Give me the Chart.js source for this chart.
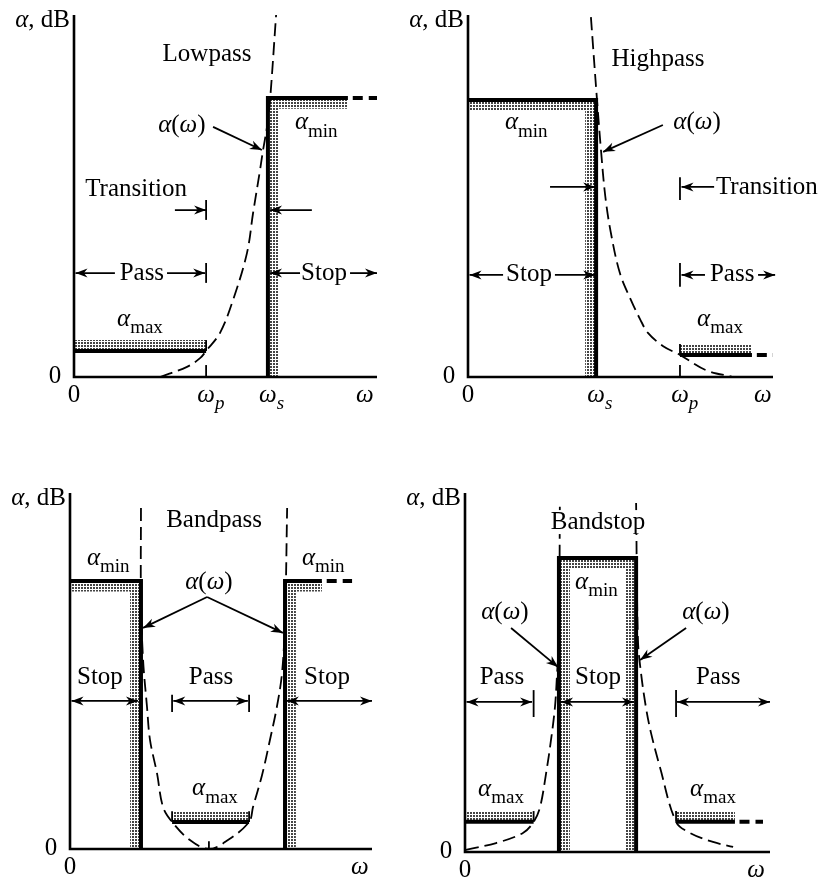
<!DOCTYPE html>
<html>
<head>
<meta charset="utf-8">
<script src="https://cdn.jsdelivr.net/npm/chart.js@4.4.0/dist/chart.umd.min.js"></script>
<style>
  body { margin: 0; background: #fff; }
  #wrap { position: relative; width: 826px; height: 879px; overflow: hidden; }
  canvas { position: absolute; }
</style>
</head>
<body>
<div id="wrap">
  <canvas id="lowpass" width="413" height="440" style="left:0;top:0"></canvas>
  <canvas id="highpass" width="443" height="440" style="left:383px;top:0"></canvas>
  <canvas id="bandpass" width="413" height="439" style="left:0;top:440px"></canvas>
  <canvas id="bandstop" width="443" height="439" style="left:383px;top:440px"></canvas>
</div>
<script>
// ---------- data (x: omega, 0..10 ; y: attenuation, 0..100) ----------
// lowpass
var lpOmega = [2.84, 3.73, 4.16, 4.36, 4.82, 5.25, 5.71, 5.91, 6.14, 6.24, 6.37, 6.47, 6.67];
var lpAlpha = [0, 2.8, 5.2, 7.2, 12.2, 21.3, 34.3, 45.3, 57.2, 62.7, 69.1, 76.5, 100];
var lpEdges = [4.36, 6.40];          // wp, ws
var lpLevels = [7.2, 77.1];          // amax, amin
var lpMinSpan = [9.04, 9.2, 10];     // solid end, dashed start, dashed end
var lpTicks = [0, 4.36, 6.40, 9.6];
var lpTickLabels = ['0', 'ω_p', 'ω_s', 'ω'];

// highpass
var hpOmega = [4.03, 4.23, 4.36, 4.50, 4.68, 4.98, 5.34, 5.64, 5.90, 6.40, 6.95, 7.80, 8.69];
var hpAlpha = [99.4, 76.5, 62.7, 50.0, 40.0, 28.7, 21.3, 16.0, 12.2, 8.5, 6.1, 1.9, 0];
var hpEdges = [4.20, 6.95];          // ws, wp
var hpLevels = [6.1, 76.5];          // amax, amin
var hpMaxSpan = [9.31, 9.47, 10];
var hpTicks = [0, 4.20, 6.95, 9.67];
var hpTickLabels = ['0', 'ω_s', 'ω_p', 'ω'];

// bandpass
var bpOmega = [2.35, 2.35, 2.42, 2.55, 2.65, 2.88, 3.08, 3.38, 3.97, 4.60, 5.23, 5.93, 6.06, 6.36, 6.62, 6.85, 7.02, 7.12, 7.19];
var bpAlpha = [95.8, 69.9, 53.1, 39.9, 30.6, 21.3, 11.8, 7.6, 2.5, 0, 2.5, 7.6, 11.8, 20.8, 30.6, 39.9, 49.4, 64.3, 95.8];
var bpEdges = [2.35, 7.12];          // stop band edges
var bpPass = [3.38, 5.93];           // pass band edges
var bpLevels = [7.6, 75.3];
var bpMinSpan = [8.34, 8.5, 9.34];
var bpTicks = [0, 9.6];
var bpTickLabels = ['0', 'ω'];

// bandstop
var bsOmegaL = [0.03, 1.02, 1.90, 2.25, 2.46, 2.66, 2.82, 2.95, 3.02, 3.08, 3.11];
var bsAlphaL = [0.6, 2.5, 5.3, 8.4, 12.5, 22.0, 31.2, 40.4, 49.9, 59.1, 97.2];
var bsOmegaR = [5.61, 5.67, 5.77, 5.93, 6.10, 6.39, 6.92, 7.38, 8.13, 8.79];
var bsAlphaR = [97.2, 59.1, 49.9, 40.4, 33.1, 23.7, 8.4, 5.3, 2.8, 1.4];
var bsEdges = [3.08, 5.61];
var bsPass = [2.25, 6.92];
var bsLevels = [8.4, 81.9];
var bsMaxSpan = [8.85, 9.0, 9.77];
var bsTicks = [0, 9.54];
var bsTickLabels = ['0', 'ω'];

// width of the dotted tolerance bands
var BX = 0.36, BY = 3.0;

var FONT = '"Liberation Serif", "Times New Roman", serif';

// ---------- helpers ----------
function P(arr) { return arr.map(function (p) { return { x: p[0], y: p[1] }; }); }
function pairs(xs, ys) { return xs.map(function (x, i) { return { x: x, y: ys[i] }; }); }
function box(x0, x1, y0, y1) { return P([[x0, y0], [x1, y0], [x1, y1], [x0, y1]]); }

function makeStipple() {
  var t = document.createElement('canvas');
  t.width = 3; t.height = 3;
  var c = t.getContext('2d');
  c.fillStyle = '#fff'; c.fillRect(0, 0, 3, 3);
  c.fillStyle = '#444'; c.fillRect(0, 0, 2, 2);
  return c.createPattern(t, 'repeat');
}
var stipple = makeStipple();

function stroke(points, width, dash) {
  return { data: points, showLine: true, pointRadius: 0, borderColor: '#000', borderWidth: width,
           borderDash: dash || [], borderCapStyle: 'butt', borderJoinStyle: 'miter',
           tension: 0, fill: false, clip: false, order: 1 };
}
function curve(xs, ys) {
  var d = stroke(pairs(xs, ys), 1.8, [13, 6]);
  d.tension = 0.35; d.order = 2;
  return d;
}
function shade(points) {
  return { data: points, showLine: true, pointRadius: 0, borderColor: 'rgba(0,0,0,0)', borderWidth: 1,
           backgroundColor: stipple, fill: 'shape', clip: false, order: 5 };
}
function axes() {
  var d = stroke(P([[0, 100], [0, 0], [10, 0]]), 2.6);
  d.order = 0;
  return d;
}

function runs(str) {
  var i = str.indexOf('_');
  var main = i < 0 ? str : str.slice(0, i), sub = i < 0 ? '' : str.slice(i + 1);
  var out = [], cur = null;
  for (var k = 0; k < main.length; k++) {
    var ch = main[k], it = 'αω'.indexOf(ch) >= 0;
    if (!cur || cur.it !== it) { cur = { t: '', it: it, sub: false }; out.push(cur); }
    cur.t += ch;
  }
  if (sub) out.push({ t: sub, it: sub.length === 1, sub: true });
  return out;
}
function fontOf(r) { return (r.it ? 'italic ' : '') + (r.sub ? '19px ' : '25px ') + FONT; }
function drawText(ctx, str, x, y, align, bg) {
  var rs = runs(str), w = 0, mw = 0;
  rs.forEach(function (r) {
    ctx.font = fontOf(r); r.w = ctx.measureText(r.t).width; w += r.w;
    if (!r.sub) mw += r.w;
  });
  var cx = align === 'left' ? x : align === 'right' ? x - w : align === 'tick' ? x - mw / 2 : x - w / 2;
  if (bg) { ctx.fillStyle = '#fff'; ctx.fillRect(cx - 2, y - 12, w + 4, 24); }
  ctx.textBaseline = 'middle'; ctx.textAlign = 'left'; ctx.fillStyle = '#000';
  rs.forEach(function (r) {
    ctx.font = fontOf(r);
    ctx.fillText(r.t, cx, r.sub ? y + 9 : y);
    cx += r.w;
  });
}
function head(ctx, x0, y0, x1, y1) {
  var a = Math.atan2(y1 - y0, x1 - x0), L = 12, W = 4.5, ca = Math.cos(a), sa = Math.sin(a);
  ctx.beginPath();
  ctx.moveTo(x1, y1);
  ctx.lineTo(x1 - L * ca + W * sa, y1 - L * sa - W * ca);
  ctx.lineTo(x1 - L * 0.7 * ca, y1 - L * 0.7 * sa);
  ctx.lineTo(x1 - L * ca - W * sa, y1 - L * sa + W * ca);
  ctx.closePath();
  ctx.fill();
}
function arrow(ctx, x0, y0, x1, y1, both) {
  ctx.beginPath(); ctx.moveTo(x0, y0); ctx.lineTo(x1, y1); ctx.stroke();
  head(ctx, x0, y0, x1, y1);
  if (both) head(ctx, x1, y1, x0, y0);
}

function notes(spec) {
  return {
    id: 'notes',
    afterDatasetsDraw: function (chart) {
      var ctx = chart.ctx, sx = chart.scales.x, sy = chart.scales.y;
      function X(v) { return sx.getPixelForValue(v); }
      function Y(v) { return sy.getPixelForValue(v); }
      ctx.save();
      ctx.strokeStyle = '#000'; ctx.fillStyle = '#000'; ctx.lineWidth = 1.8;
      spec.bars.forEach(function (b) {
        ctx.beginPath(); ctx.moveTo(X(b[0]), Y(b[1])); ctx.lineTo(X(b[0]), Y(b[2])); ctx.stroke();
      });
      spec.arrows.forEach(function (a) { ctx.fillStyle = '#000'; arrow(ctx, X(a[0]), Y(a[1]), X(a[2]), Y(a[3]), a[4]); });
      spec.texts.forEach(function (t) { drawText(ctx, t[0], X(t[1]), Y(t[2]), t[3] || 'center', t[4]); });
      var x0 = X(0), y0 = Y(0);
      drawText(ctx, 'α, dB', x0 - 4, chart.chartArea.top + 5, 'right');
      drawText(ctx, '0', x0 - 19, y0 - 1, 'center');
      spec.ticks.forEach(function (v, i) { drawText(ctx, spec.tickLabels[i], X(v), y0 + 18, 'tick'); });
      ctx.restore();
    }
  };
}

function panel(id, pad, datasets, spec) {
  return new Chart(document.getElementById(id), {
    type: 'scatter',
    data: { datasets: datasets },
    options: {
      responsive: false, animation: false, events: [],
      layout: { padding: pad },
      plugins: { legend: { display: false }, tooltip: { enabled: false } },
      scales: {
        x: { type: 'linear', min: 0, max: 10, display: false },
        y: { type: 'linear', min: 0, max: 100, display: false }
      }
    },
    plugins: [notes(spec)]
  });
}

// ---------- lowpass ----------
panel('lowpass', { left: 74, top: 15, right: 36, bottom: 63 }, [
  shade(box(0, lpEdges[0], lpLevels[0], lpLevels[0] + BY)),
  shade(P([[lpEdges[1], 0], [lpEdges[1], lpLevels[1]], [lpMinSpan[0], lpLevels[1]], [lpMinSpan[0], lpLevels[1] - BY],
           [lpEdges[1] + BX, lpLevels[1] - BY], [lpEdges[1] + BX, 0]])),
  stroke(P([[0, lpLevels[0]], [lpEdges[0], lpLevels[0]]]), 4),
  stroke(P([[lpEdges[1], 0], [lpEdges[1], lpLevels[1]], [lpMinSpan[0], lpLevels[1]]]), 4),
  stroke(P([[lpMinSpan[1], lpLevels[1]], [lpMinSpan[2], lpLevels[1]]]), 4, [10, 6]),
  curve(lpOmega, lpAlpha),
  axes()
], {
  ticks: lpTicks, tickLabels: lpTickLabels,
  texts: [['Lowpass', 4.39, 89.0], ['α(ω)', 3.56, 69.6], ['α_min', 7.29, 70.2, 'left'], ['Transition', 2.05, 51.7],
          ['Pass', 2.24, 28.7], ['Stop', 8.25, 28.7], ['α_max', 1.42, 16.0, 'left']],
  arrows: [[4.59, 69.1, 6.20, 62.7], [3.33, 46.1, 4.36, 46.1], [7.85, 46.1, 6.47, 46.1],
           [1.35, 28.7, 0.05, 28.7], [3.07, 28.7, 4.33, 28.7], [7.46, 28.7, 6.47, 28.7], [9.11, 28.7, 10.0, 28.7]],
  bars: [[4.36, 43.4, 48.9], [4.36, 26.0, 31.5], [4.36, 0, 3.3], [4.36, 7.2, 10.2]]
});

// ---------- highpass ----------
panel('highpass', { left: 85, top: 15, right: 53, bottom: 63 }, [
  shade(P([[0, hpLevels[1]], [hpEdges[0], hpLevels[1]], [hpEdges[0], 0], [hpEdges[0] - BX, 0],
           [hpEdges[0] - BX, hpLevels[1] - BY], [0, hpLevels[1] - BY]])),
  shade(box(hpEdges[1], hpMaxSpan[0], hpLevels[0], hpLevels[0] + BY)),
  stroke(P([[0, hpLevels[1]], [hpEdges[0], hpLevels[1]], [hpEdges[0], 0]]), 4),
  stroke(P([[hpEdges[1], hpLevels[0]], [hpMaxSpan[0], hpLevels[0]]]), 4),
  stroke(P([[hpMaxSpan[1], hpLevels[0]], [hpMaxSpan[2], hpLevels[0]]]), 4, [10, 6]),
  curve(hpOmega, hpAlpha),
  axes()
], {
  ticks: hpTicks, tickLabels: hpTickLabels,
  texts: [['Highpass', 6.23, 87.6], ['α(ω)', 7.51, 70.2], ['α_min', 1.21, 70.2, 'left'], ['Transition', 8.13, 52.5, 'left'],
          ['Stop', 2.0, 28.2], ['Pass', 8.66, 28.2], ['α_max', 7.51, 16.0, 'left']],
  arrows: [[6.39, 69.6, 4.43, 62.2], [8.07, 52.5, 7.0, 52.5], [2.69, 52.5, 4.17, 52.5],
           [1.15, 28.2, 0.05, 28.2], [2.85, 28.2, 4.17, 28.2], [7.77, 28.2, 7.0, 28.2], [9.51, 28.2, 10.07, 28.2]],
  bars: [[6.95, 48.9, 55.2], [6.95, 24.9, 31.5], [6.95, 0, 3.3], [6.95, 6.1, 9.1]]
});

// ---------- bandpass ----------
panel('bandpass', { left: 70, top: 53, right: 41, bottom: 30 }, [
  shade(P([[0, bpLevels[1]], [bpEdges[0], bpLevels[1]], [bpEdges[0], 0], [bpEdges[0] - BX, 0],
           [bpEdges[0] - BX, bpLevels[1] - BY], [0, bpLevels[1] - BY]])),
  shade(P([[bpEdges[1], 0], [bpEdges[1], bpLevels[1]], [bpMinSpan[0], bpLevels[1]], [bpMinSpan[0], bpLevels[1] - BY],
           [bpEdges[1] + BX, bpLevels[1] - BY], [bpEdges[1] + BX, 0]])),
  shade(box(bpPass[0], bpPass[1], bpLevels[0], bpLevels[0] + BY)),
  stroke(P([[0, bpLevels[1]], [bpEdges[0], bpLevels[1]], [bpEdges[0], 0]]), 4),
  stroke(P([[bpEdges[1], 0], [bpEdges[1], bpLevels[1]], [bpMinSpan[0], bpLevels[1]]]), 4),
  stroke(P([[bpMinSpan[1], bpLevels[1]], [bpMinSpan[2], bpLevels[1]]]), 4, [10, 6]),
  stroke(P([[bpPass[0], bpLevels[0]], [bpPass[1], bpLevels[0]]]), 4),
  curve(bpOmega, bpAlpha),
  axes()
], {
  ticks: bpTicks, tickLabels: bpTickLabels,
  texts: [['Bandpass', 4.77, 92.4], ['α(ω)', 4.60, 75.0], ['α_min', 0.56, 81.7, 'left'], ['α_min', 7.68, 81.7, 'left'],
          ['Stop', 0.99, 48.3], ['Pass', 4.67, 48.3], ['Stop', 8.51, 48.3], ['α_max', 4.04, 16.9, 'left']],
  arrows: [[4.54, 70.8, 2.42, 62.1], [4.54, 70.8, 7.05, 60.7], [0.05, 41.6, 2.25, 41.6, true],
           [3.42, 41.6, 5.89, 41.6, true], [7.18, 41.6, 10.0, 41.6, true]],
  bars: [[3.38, 38.5, 43.3], [5.93, 38.5, 43.3], [3.38, 7.6, 10.6], [5.93, 7.6, 10.6], [4.60, 0, 2.2]]
});

// ---------- bandstop ----------
panel('bandstop', { left: 82, top: 53, right: 56, bottom: 27 }, [
  shade(P([[bsEdges[0], 0], [bsEdges[0], bsLevels[1]], [bsEdges[1], bsLevels[1]], [bsEdges[1], 0],
           [bsEdges[1] - BX, 0], [bsEdges[1] - BX, bsLevels[1] - BY], [bsEdges[0] + BX, bsLevels[1] - BY], [bsEdges[0] + BX, 0]])),
  shade(box(0, bsPass[0], bsLevels[0], bsLevels[0] + BY)),
  shade(box(bsPass[1], bsMaxSpan[0], bsLevels[0], bsLevels[0] + BY)),
  stroke(P([[bsEdges[0], 0], [bsEdges[0], bsLevels[1]], [bsEdges[1], bsLevels[1]], [bsEdges[1], 0]]), 4),
  stroke(P([[0, bsLevels[0]], [bsPass[0], bsLevels[0]]]), 4),
  stroke(P([[bsPass[1], bsLevels[0]], [bsMaxSpan[0], bsLevels[0]]]), 4),
  stroke(P([[bsMaxSpan[1], bsLevels[0]], [bsMaxSpan[2], bsLevels[0]]]), 4, [10, 6]),
  curve(bsOmegaL, bsAlphaL),
  curve(bsOmegaR, bsAlphaR),
  axes()
], {
  ticks: bsTicks, tickLabels: bsTickLabels,
  texts: [['Bandstop', 4.36, 91.9, 'center', true], ['α_min', 3.61, 75.2, 'left'], ['α(ω)', 1.31, 66.6], ['α(ω)', 7.90, 66.6],
          ['Pass', 1.21, 48.5], ['Stop', 4.36, 48.5], ['Pass', 8.30, 48.5],
          ['α_max', 0.43, 17.5, 'left'], ['α_max', 7.38, 17.5, 'left']],
  arrows: [[1.51, 62.4, 3.05, 51.5], [7.25, 62.4, 5.74, 53.5], [0.05, 41.8, 2.2, 41.8, true],
           [3.15, 41.8, 5.54, 41.8, true], [6.95, 41.8, 10.0, 41.8, true]],
  bars: [[2.25, 37.6, 45.1], [6.92, 37.6, 45.1], [2.25, 8.4, 11.4], [6.92, 8.4, 11.4]]
});
</script>
</body>
</html>
